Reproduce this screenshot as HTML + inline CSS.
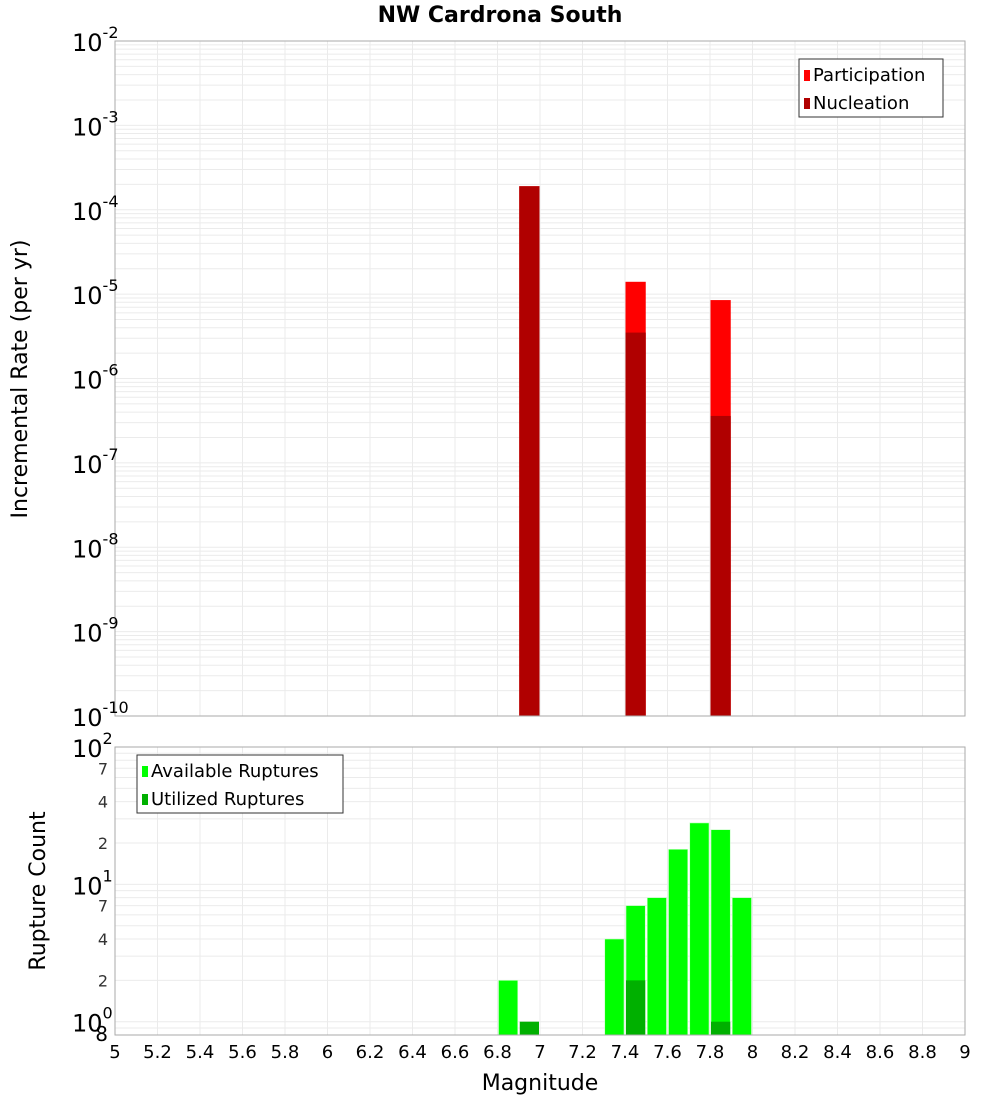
<!DOCTYPE html>
<html><head><meta charset="utf-8"><style>
body{margin:0;background:#fff;}
svg{display:block;font-family:"DejaVu Sans","Liberation Sans",sans-serif;}
</style></head><body>
<svg id="c" width="1000" height="1100"></svg>
<script>
const topMags=[6.95,7.45,7.85];
const participation=[1.9e-4,1.4e-5,8.5e-6];
const nucleation=[1.9e-4,3.5e-6,3.6e-7];
const availMags=[6.85,7.35,7.45,7.55,7.65,7.75,7.85,7.95];
const available=[2,4,7,8,18,28,25,8];
const utilMags=[6.95,7.45,7.85];
const utilized=[1,2,1];
const xTicks=[5,5.2,5.4,5.6,5.8,6,6.2,6.4,6.6,6.8,7,7.2,7.4,7.6,7.8,8,8.2,8.4,8.6,8.8,9];
const topExps=[-2,-3,-4,-5,-6,-7,-8,-9,-10];
const botMinor=[7,4,2];

const NS="http://www.w3.org/2000/svg";
const svg=document.getElementById('c');
function el(t,a,p){const e=document.createElementNS(NS,t);for(const k in a)e.setAttribute(k,a[k]);(p||svg).appendChild(e);return e;}
const L=115,R=965;
const x=m=>L+(m-5)/4*(R-L);
const T1=41,B1=716;
const y1=v=>T1+(-2-Math.log10(v))/8*(B1-T1);
const T2=747,B2=1035;
const y2=v=>T2+(2-Math.log10(v))/(2-Math.log10(0.8))*(B2-T2);

// title
let t=el('text',{x:500,y:22,'text-anchor':'middle','font-size':22,'font-weight':'bold'});t.textContent='NW Cardrona South';


// panels
const g1=el('g',{});
el('rect',{x:L,y:T1,width:R-L,height:B1-T1,fill:'#fff'},g1);
for(let e=-10;e<-2;e++)for(let k=1;k<10;k++){const yy=y1(k*Math.pow(10,e));el('line',{x1:L,x2:R,y1:yy,y2:yy,stroke:'#ebebeb','stroke-width':1},g1);}
xTicks.forEach(m=>el('line',{x1:x(m),x2:x(m),y1:T1,y2:B1,stroke:'#ebebeb'},g1));
const g2=el('g',{});
el('rect',{x:L,y:T2,width:R-L,height:B2-T2,fill:'#fff'},g2);
[0.8,0.9,1,2,3,4,5,6,7,8,9,10,20,30,40,50,60,70,80,90].forEach(v=>{const yy=y2(v);el('line',{x1:L,x2:R,y1:yy,y2:yy,stroke:'#ebebeb'},g2);});
xTicks.forEach(m=>el('line',{x1:x(m),x2:x(m),y1:T2,y2:B2,stroke:'#ebebeb'},g2));

// top bars
const bw=0.1;
topMags.forEach((m,i)=>{
 let r=el('rect',{x:x(m-bw/2)+0.5,y:y1(participation[i]),width:x(m+bw/2)-x(m-bw/2)-1,height:B1-y1(participation[i]),fill:'#ff0000'},g1);
 
 r=el('rect',{x:x(m-bw/2)+0.5,y:y1(nucleation[i]),width:x(m+bw/2)-x(m-bw/2)-1,height:B1-y1(nucleation[i]),fill:'#b00000'},g1);
 
});
availMags.forEach((m,i)=>{
 let r=el('rect',{x:x(m-bw/2)+1,y:y2(available[i]),width:x(m+bw/2)-x(m-bw/2)-2,height:B2-y2(available[i]),fill:'#00ff00',stroke:'#c8ffc8','stroke-width':0.6},g2);
 
});
utilMags.forEach((m,i)=>{
 let r=el('rect',{x:x(m-bw/2)+1,y:y2(utilized[i]),width:x(m+bw/2)-x(m-bw/2)-2,height:B2-y2(utilized[i]),fill:'#00b000'},g2);
 
});
el('rect',{x:L,y:T1,width:R-L,height:B1-T1,fill:'none',stroke:'#aaa'},g1);
el('rect',{x:L,y:T2,width:R-L,height:B2-T2,fill:'none',stroke:'#aaa'},g2);

// top y labels
topExps.forEach(e=>{
 const yy=y1(Math.pow(10,e));
 const tx=el('text',{x:72,y:yy+10,'font-size':24});
 
 tx.textContent='10';
 const s=el('tspan',{'font-size':16,dy:-13});s.textContent=String(e);tx.appendChild(s);
});
// bottom y labels
[[100,'2'],[10,'1'],[1,'0']].forEach(([v,e])=>{
 const yy=y2(v);
 const tx=el('text',{x:72,y:yy+10,'font-size':24});
 
 tx.textContent='10';
 const s=el('tspan',{'font-size':16,dy:-13});s.textContent=e;tx.appendChild(s);
});
[100,10].forEach(d=>botMinor.forEach(k=>{
 const tx=el('text',{x:108,y:y2(k*d/10)+6,'font-size':16,'text-anchor':'end',fill:'#333'});
 
 tx.textContent=String(k);
}));
let t8=el('text',{x:108,y:y2(0.8)+6,'font-size':20,'text-anchor':'end'});t8.textContent='8';


// x labels
xTicks.forEach(m=>{
 const tx=el('text',{x:x(m),y:1058,'font-size':18,'text-anchor':'middle'});
 
 tx.textContent=String(m);
});
let xt=el('text',{x:540,y:1090,'font-size':22,'text-anchor':'middle'});xt.textContent='Magnitude';

let yt=el('text',{x:0,y:0,'font-size':22,'text-anchor':'middle',transform:'translate(27,379) rotate(-90)'});yt.textContent='Incremental Rate (per yr)';

let yt2=el('text',{x:0,y:0,'font-size':22,'text-anchor':'middle',transform:'translate(45,891) rotate(-90)'});yt2.textContent='Rupture Count';


// legends
function legend(x0,y0,w,items,name){
 const g=el('g',{});
 el('rect',{x:x0,y:y0,width:w,height:58,fill:'#fff',stroke:'#333'},g);
 items.forEach((it,i)=>{
  el('rect',{x:x0+5,y:y0+11+i*28,width:6,height:11,fill:it[1]},g);
  const tx=el('text',{x:x0+14,y:y0+22+i*28,'font-size':18},g);tx.textContent=it[0];
 });
}
legend(799,59,144,[['Participation','#ff0000'],['Nucleation','#b00000']],'legend-top');
legend(137,755,206,[['Available Ruptures','#00ff00'],['Utilized Ruptures','#00b000']],'legend-bottom');
</script>
</body></html>
